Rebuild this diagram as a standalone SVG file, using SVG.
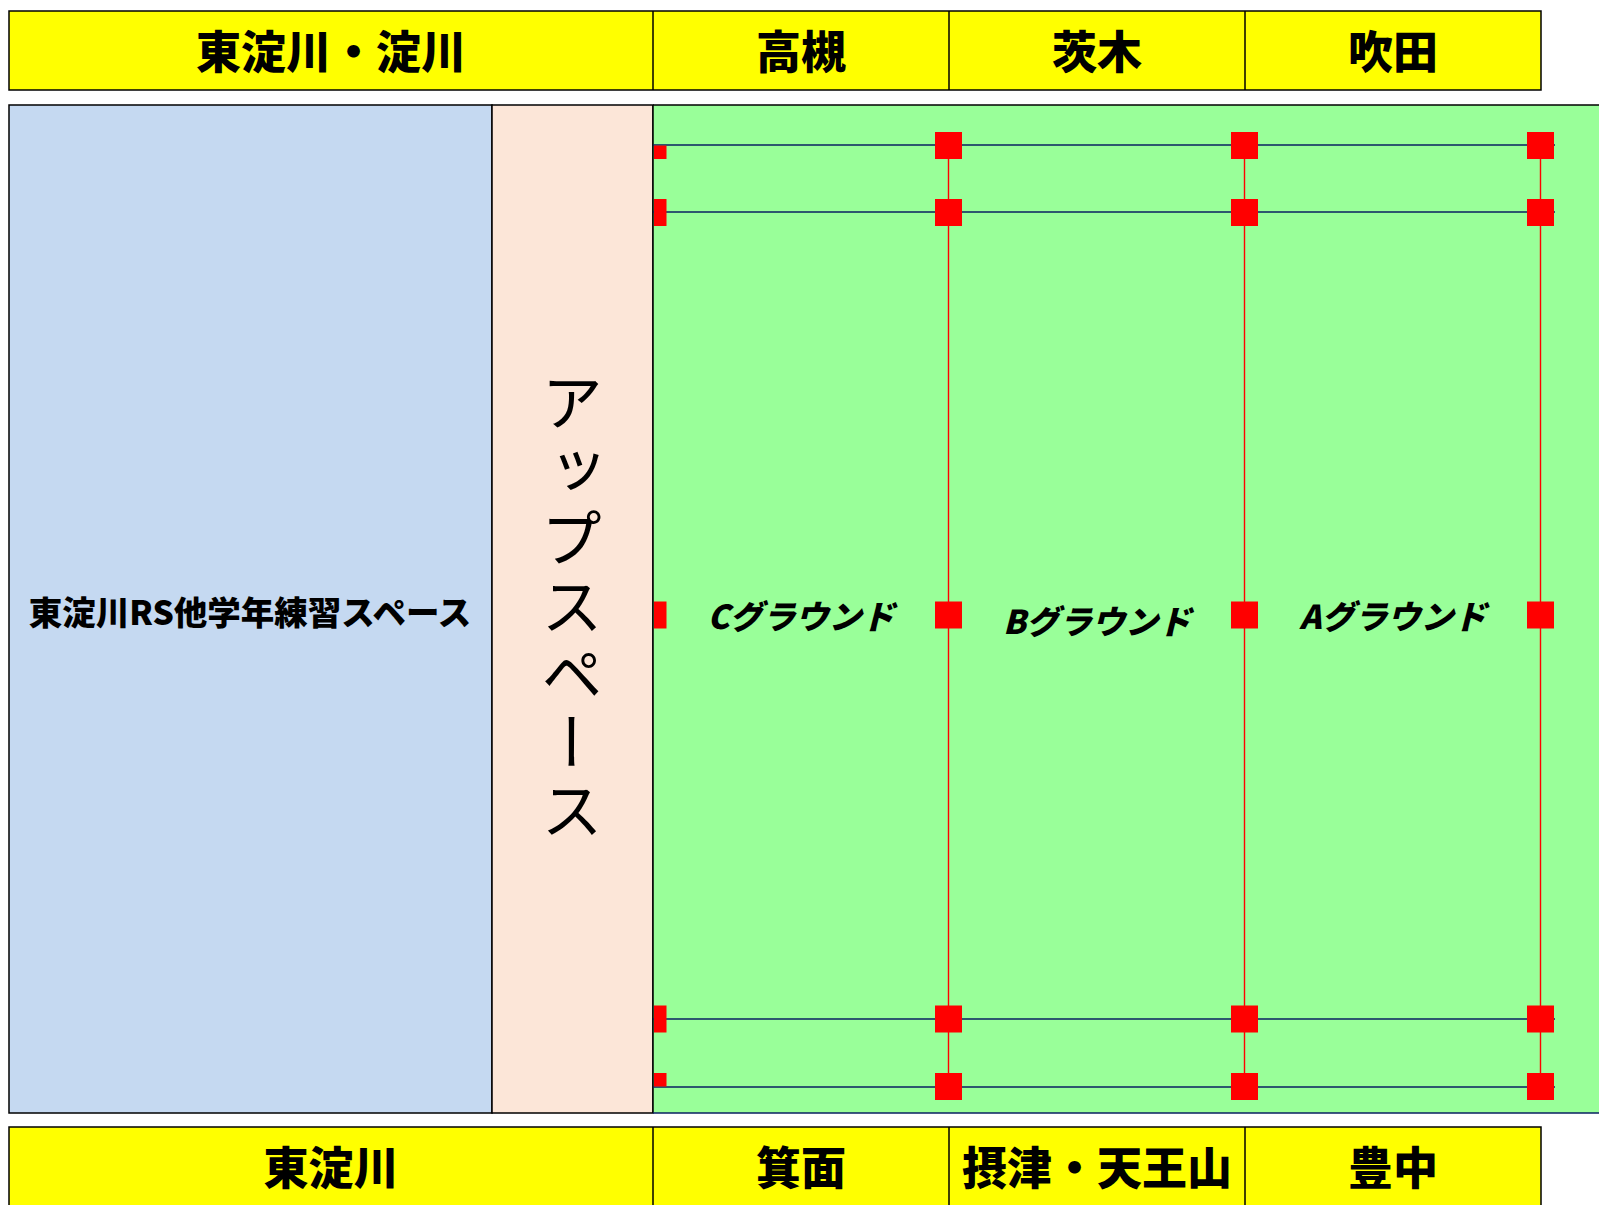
<svg xmlns="http://www.w3.org/2000/svg" width="1599" height="1205" viewBox="0 0 1599 1205">
<style>
.hdr{fill:#FFFF00;stroke:#000;stroke-width:1.5}
.div{stroke:#000;stroke-width:1.5}
.ht{font-family:"Noto Sans CJK JP","Noto Sans",sans-serif;font-weight:900;font-size:45px;fill:#000;text-anchor:middle;dominant-baseline:central}
.gt{font-family:"Noto Sans CJK JP","Noto Sans",sans-serif;font-weight:900;font-size:33px;fill:#000;text-anchor:middle;dominant-baseline:central;font-style:italic}
.lt{font-family:"Noto Sans CJK JP","Noto Sans",sans-serif;font-weight:900;font-size:33.5px;fill:#000;text-anchor:middle;dominant-baseline:central}
.vt{font-family:"Noto Sans CJK JP","Noto Sans",sans-serif;font-weight:400;font-size:62px;fill:#000;text-anchor:middle;writing-mode:vertical-rl;letter-spacing:6px}
.nv{stroke:#0A2060;stroke-width:1.6}
.rl{stroke:#FF0000;stroke-width:1.4}
.sq{fill:#FF0000}
</style>

<g id="top-header">
  <rect class="hdr" x="9" y="11" width="1532" height="79"/>
  <line class="div" x1="653" y1="11" x2="653" y2="90"/>
  <line class="div" x1="949" y1="11" x2="949" y2="90"/>
  <line class="div" x1="1245" y1="11" x2="1245" y2="90"/>
  <text class="ht" x="331" y="49">東淀川・淀川</text>
  <text class="ht" x="801" y="49">高槻</text>
  <text class="ht" x="1097" y="49">茨木</text>
  <text class="ht" x="1393" y="49">吹田</text>
</g>

<g id="practice-space">
  <rect x="9" y="105" width="483" height="1008" fill="#C5D9F1" stroke="#000" stroke-width="1.5"/>
  <text class="lt" x="250" y="610">東淀川RS他学年練習スペース</text>
</g>

<g id="up-space">
  <rect x="492" y="105" width="161" height="1008" fill="#FCE6D8" stroke="#000" stroke-width="1.5"/>
  <text class="vt" x="572" y="609">アップスペース</text>
</g>

<g id="grounds">
  <rect x="653" y="105" width="946" height="1008" fill="#99FF99"/>
  <line x1="653" y1="105" x2="1599" y2="105" stroke="#000" stroke-width="1.5"/>
  <line x1="653" y1="105" x2="653" y2="1113" stroke="#000" stroke-width="1.5"/>
  <line x1="653" y1="1113" x2="1599" y2="1113" stroke="#0A2060" stroke-width="1.5"/>
  <text class="gt" x="801" y="615">Cグラウンド</text>
  <text class="gt" x="1097" y="620">Bグラウンド</text>
  <text class="gt" x="1393" y="615">Aグラウンド</text>
</g>

<g id="connectors">
  <line class="rl" x1="948.5" y1="145" x2="948.5" y2="1100"/>
  <line class="rl" x1="1244.5" y1="145" x2="1244.5" y2="1100"/>
  <line class="rl" x1="1540.5" y1="145" x2="1540.5" y2="1100"/>
  <line class="nv" x1="653" y1="145" x2="1555" y2="145"/>
  <line class="nv" x1="653" y1="212" x2="1555" y2="212"/>
  <line class="nv" x1="653" y1="1019" x2="1555" y2="1019"/>
  <line class="nv" x1="653" y1="1087" x2="1555" y2="1087"/>
</g>

<g id="markers">
  <rect class="sq" x="654" y="145.5" width="12.5" height="13.5"/>
  <rect class="sq" x="654" y="199" width="12.5" height="27"/>
  <rect class="sq" x="654" y="601.5" width="12.5" height="27"/>
  <rect class="sq" x="654" y="1005.5" width="12.5" height="27"/>
  <rect class="sq" x="654" y="1073" width="12.5" height="13.5"/>
  <rect class="sq" x="935" y="132" width="27" height="27"/>
  <rect class="sq" x="935" y="199" width="27" height="27"/>
  <rect class="sq" x="935" y="601.5" width="27" height="27"/>
  <rect class="sq" x="935" y="1005.5" width="27" height="27"/>
  <rect class="sq" x="935" y="1073" width="27" height="27"/>
  <rect class="sq" x="1231" y="132" width="27" height="27"/>
  <rect class="sq" x="1231" y="199" width="27" height="27"/>
  <rect class="sq" x="1231" y="601.5" width="27" height="27"/>
  <rect class="sq" x="1231" y="1005.5" width="27" height="27"/>
  <rect class="sq" x="1231" y="1073" width="27" height="27"/>
  <rect class="sq" x="1527" y="132" width="27" height="27"/>
  <rect class="sq" x="1527" y="199" width="27" height="27"/>
  <rect class="sq" x="1527" y="601.5" width="27" height="27"/>
  <rect class="sq" x="1527" y="1005.5" width="27" height="27"/>
  <rect class="sq" x="1527" y="1073" width="27" height="27"/>
</g>

<g id="bottom-header">
  <rect class="hdr" x="9" y="1127" width="1532" height="80"/>
  <line class="div" x1="653" y1="1127" x2="653" y2="1207"/>
  <line class="div" x1="949" y1="1127" x2="949" y2="1207"/>
  <line class="div" x1="1245" y1="1127" x2="1245" y2="1207"/>
  <text class="ht" x="331" y="1165">東淀川</text>
  <text class="ht" x="801" y="1165">箕面</text>
  <text class="ht" x="1097" y="1165">摂津・天王山</text>
  <text class="ht" x="1393" y="1165">豊中</text>
</g>
</svg>
